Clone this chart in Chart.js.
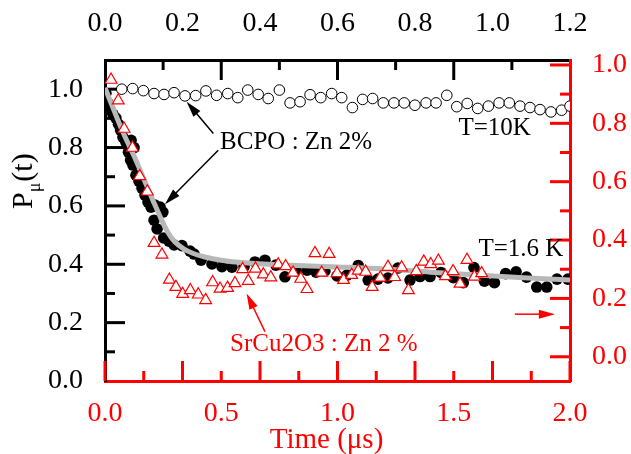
<!DOCTYPE html>
<html>
<head>
<meta charset="utf-8">
<title>P_mu(t) relaxation</title>
<script src="https://cdn.jsdelivr.net/npm/chart.js@4.4.0/dist/chart.umd.min.js"></script>
<style>
  html,body{margin:0;padding:0;background:#fff}
  canvas{display:block}
</style>
</head>
<body>
<canvas id="c" width="631" height="454"></canvas>
<script>
'use strict';

/* ---------- data ---------- */
// BCPO : Zn 2%, T=10K (open circles, left axis)
const T10_T = [0.072,0.119,0.165,0.211,0.254,0.297,0.344,0.390,0.434,0.480,0.528,0.571,0.614,0.659,0.702,
  0.750,0.796,0.839,0.882,0.928,0.975,1.018,1.064,1.108,1.151,1.197,1.243,1.287,1.333,1.381,
  1.424,1.470,1.513,1.558,1.603,1.649,1.695,1.739,1.785,1.828,1.871,1.918,1.964,2.000];
const T10_P = [1.000,1.002,0.995,0.985,0.982,0.988,0.977,0.978,0.994,0.979,0.985,0.971,0.997,0.982,0.968,
  0.997,0.953,0.957,0.981,0.971,0.985,0.971,0.937,0.965,0.968,0.953,0.953,0.953,0.945,0.953,
  0.953,0.979,0.940,0.951,0.934,0.942,0.953,0.953,0.942,0.937,0.930,0.922,0.928,0.942];

// BCPO : Zn 2%, T=1.6 K (filled circles, left axis)
const T16_T = [0.004,0.013,0.022,0.034,0.047,0.058,0.067,0.077,0.090,0.101,0.110,0.112,0.120,0.125,0.133,
  0.146,0.159,0.172,0.185,0.198,0.211,0.215,0.224,0.237,0.249,0.252,0.275,0.297,0.331,0.366,
  0.383,0.413,0.460,0.503,0.546,0.598,0.645,0.688,0.735,0.774,0.822,0.869,0.908,0.946,0.998,
  1.041,1.089,1.132,1.174,1.217,1.260,1.312,1.355,1.398,1.445,1.498,1.541,1.587,1.632,1.675,
  1.723,1.768,1.813,1.857,1.900,1.944,1.991];
const T16_P = [0.986,0.952,0.928,0.914,0.901,0.880,0.860,0.836,0.818,0.784,0.757,0.825,0.740,0.800,0.705,
  0.685,0.661,0.637,0.613,0.596,0.551,0.603,0.521,0.596,0.579,0.490,0.479,0.466,0.464,0.445,
  0.435,0.414,0.401,0.392,0.390,0.392,0.408,0.414,0.397,0.357,0.377,0.380,0.373,0.377,0.360,
  0.363,0.396,0.346,0.349,0.353,0.387,0.346,0.358,0.358,0.372,0.354,0.337,0.389,0.342,0.337,
  0.368,0.374,0.356,0.322,0.322,0.349,0.349];

// fit curve through the 1.6 K data (grey line)
const FIT_T = [0,0.03,0.06,0.09,0.12,0.15,0.18,0.21,0.24,0.27,0.30,0.34,0.38,0.43,0.50,0.60,0.80,1.00,1.20,1.40,1.60,1.80,2.00];
const FIT_P = [1.005,0.945,0.885,0.830,0.780,0.725,0.668,0.612,0.558,0.510,0.477,0.452,0.437,0.425,0.414,0.405,0.397,0.391,0.384,0.373,0.363,0.354,0.346];

// SrCu2O3 : Zn 2 % (open triangles, right axis)
const SR_T = [0.026,0.057,0.082,0.118,0.149,0.182,0.211,0.245,0.277,0.305,0.334,0.367,0.401,0.433,0.463,
  0.495,0.527,0.559,0.592,0.616,0.647,0.681,0.713,0.745,0.777,0.809,0.842,0.869,0.903,0.932,
  0.964,0.998,1.026,1.061,1.089,1.121,1.149,1.184,1.217,1.246,1.276,1.305,1.339,1.371,1.401,
  1.434,1.464,1.497,1.527,1.557,1.589,1.620];
const SR_A = [0.949,0.878,0.781,0.716,0.619,0.566,0.390,0.350,0.264,0.239,0.215,0.228,0.213,0.194,0.255,
  0.233,0.236,0.252,0.300,0.260,0.302,0.282,0.272,0.316,0.310,0.288,0.267,0.232,0.355,0.288,
  0.352,0.286,0.263,0.280,0.295,0.291,0.239,0.271,0.308,0.273,0.306,0.228,0.293,0.326,0.317,
  0.329,0.276,0.293,0.250,0.332,0.274,0.286];

/* ---------- axes ---------- */
const X_TICKS  = [0,0.5,1.0,1.5,2.0];                 // bottom labels (time, us)
const X2_TICKS = [0,0.2,0.4,0.6,0.8,1.0,1.2];         // top labels
const Y_TICKS  = [0,0.2,0.4,0.6,0.8,1.0];             // left labels
const Y2_TICKS = [0,0.2,0.4,0.6,0.8,1.0];             // right labels

// inward tick marks (bottom marks in top-axis units, top marks in time units)
const BOTTOM_MARKS = [0,0.1,0.2,0.3,0.4,0.5,0.6,0.7,0.8,0.9,1.0,1.1,1.2];
const TOP_MARKS    = [0.25,0.5,0.75,1.0,1.25,1.5,1.75];
const LEFT_MARKS   = [0.1,0.2,0.3,0.4,0.5,0.6,0.7,0.8,0.9,1.0];
const RIGHT_MARKS  = [0,0.1,0.2,0.3,0.4,0.5,0.6,0.7,0.8,0.9,1.0];

const RED = '#ff0000', BLK = '#000000';
const SERIF = '"Liberation Serif","Times New Roman",serif';
const TICK_FONT = {family:SERIF, size:28};

const pts = (xs, ys) => xs.map((x,i)=>({x, y:ys[i]}));
const fix = v => Number(v).toFixed(1);
const setTicks = arr => s => { s.ticks = arr.map(v=>({value:v})); };

/* ---------- overlay: tick marks, titles, annotations ---------- */
function seg(ctx, x1, y1, x2, y2, color){
  ctx.strokeStyle = color;
  ctx.beginPath(); ctx.moveTo(x1,y1); ctx.lineTo(x2,y2); ctx.stroke();
}
function arrow(ctx, x1, y1, x2, y2, color){
  const a = Math.atan2(y2-y1, x2-x1), L = 16, W = 4.5;
  const c = Math.cos(a), s = Math.sin(a);
  ctx.strokeStyle = color; ctx.fillStyle = color; ctx.lineWidth = 1.5;
  ctx.beginPath(); ctx.moveTo(x1,y1); ctx.lineTo(x2-L*0.8*c, y2-L*0.8*s); ctx.stroke();
  ctx.beginPath(); ctx.moveTo(x2,y2);
  ctx.lineTo(x2-L*c+W*s, y2-L*s-W*c);
  ctx.lineTo(x2-L*c-W*s, y2-L*s+W*c);
  ctx.closePath(); ctx.fill();
}
const isMajor = (v, step) => Math.abs(v/step - Math.round(v/step)) < 1e-6;

const marksPlugin = {
  id:'marks',
  beforeDatasetsDraw(chart){
    const {ctx, chartArea:a, scales:{x, x2, y, y2}} = chart;
    ctx.save();
    ctx.lineWidth = 3; ctx.lineCap = 'butt';
    TOP_MARKS.forEach(v=>{
      const px = x.getPixelForValue(v);
      seg(ctx, px, a.top, px, a.top + (isMajor(v,0.5)?20:10), BLK);
    });
    LEFT_MARKS.forEach(v=>{
      const py = y.getPixelForValue(v);
      seg(ctx, a.left, py, a.left + (isMajor(v,0.2)?20:10), py, BLK);
    });
    RIGHT_MARKS.forEach(v=>{
      const py = y2.getPixelForValue(v);
      seg(ctx, a.right, py, a.right - (isMajor(v,0.2)?20:10), py, RED);
    });
    BOTTOM_MARKS.forEach(v=>{
      const px = x2.getPixelForValue(v);
      seg(ctx, px, a.bottom, px, a.bottom - (isMajor(v,0.2)?20:10), RED);
    });
    ctx.restore();
  },
  afterDatasetsDraw(chart){
    const {ctx, chartArea:a, scales:{x, y}} = chart;
    const X = v => x.getPixelForValue(v), Y = v => y.getPixelForValue(v);
    ctx.save();
    ctx.textBaseline = 'alphabetic'; ctx.textAlign = 'left';

    // annotations
    ctx.font = '25px ' + SERIF;
    ctx.fillStyle = BLK;
    ctx.fillText('BCPO : Zn 2%', X(0.495), Y(0.795));
    ctx.fillText('T=10K', X(1.52), Y(0.842));
    ctx.fillText('T=1.6 K', X(1.606), Y(0.428));
    arrow(ctx, X(0.466), Y(0.848), X(0.351), Y(0.957), BLK);
    arrow(ctx, X(0.487), Y(0.791), X(0.258), Y(0.606), BLK);

    ctx.fillStyle = RED;
    ctx.fillText('SrCu2O3 : Zn 2 %', X(0.538), Y(0.103));
    arrow(ctx, X(0.688), Y(0.169), X(0.609), Y(0.300), RED);
    arrow(ctx, X(1.763), Y(0.229), X(1.935), Y(0.229), RED);

    // x title
    ctx.font = '29px ' + SERIF;
    ctx.fillStyle = RED; ctx.textAlign = 'center';
    ctx.fillText('Time (\u03bcs)', (a.left + a.right)/2 - 11, a.bottom + 67);

    // y title: P with subscript mu, rotated
    ctx.fillStyle = BLK; ctx.textAlign = 'left';
    ctx.translate(32, 209);
    ctx.rotate(-Math.PI/2);
    ctx.font = '30px ' + SERIF;
    ctx.fillText('P', 0, 0);
    let w = ctx.measureText('P').width;
    ctx.font = '18px ' + SERIF;
    ctx.fillText('\u03bc', w, 8);
    w += ctx.measureText('\u03bc').width + 1;
    ctx.font = '30px ' + SERIF;
    ctx.fillText('(t)', w, 0);
    ctx.restore();
  }
};

/* ---------- chart ---------- */
new Chart(document.getElementById('c'), {
  type:'scatter',
  data:{datasets:[
    {label:'SrCu2O3 : Zn 2 %', data:pts(SR_T, SR_A), yAxisID:'y2',
      pointStyle:'triangle', pointRadius:6.8, pointBorderWidth:1.2,
      pointBorderColor:RED, pointBackgroundColor:'#ffffff'},
    {label:'fit', type:'line', data:pts(FIT_T, FIT_P), yAxisID:'y',
      borderColor:'#b8b8b8', borderWidth:5, pointRadius:0, fill:false,
      cubicInterpolationMode:'monotone'},
    {label:'T=1.6 K', data:pts(T16_T, T16_P), yAxisID:'y',
      pointStyle:'circle', pointRadius:5.8, pointBorderWidth:0,
      pointBackgroundColor:BLK},
    {label:'T=10K', data:pts(T10_T, T10_P), yAxisID:'y',
      pointStyle:'circle', pointRadius:5.3, pointBorderWidth:1,
      pointBorderColor:BLK, pointBackgroundColor:'#ffffff'}
  ]},
  options:{
    responsive:false, animation:false, devicePixelRatio:1,
    layout:{padding:0},
    plugins:{legend:{display:false}, tooltip:{enabled:false}},
    scales:{
      x:{type:'linear', position:'bottom', min:0, max:2,
        afterBuildTicks:setTicks(X_TICKS), afterFit:s=>{s.height = 73;},
        ticks:{color:RED, font:TICK_FONT, padding:16, callback:fix, autoSkip:false, maxRotation:0},
        grid:{display:false, drawTicks:false}, border:{color:RED, width:3}},
      x2:{type:'linear', position:'top', min:0, max:1.2,
        afterBuildTicks:setTicks(X2_TICKS), afterFit:s=>{s.height = 60;},
        ticks:{color:BLK, font:TICK_FONT, padding:20, callback:fix, autoSkip:false, maxRotation:0},
        grid:{display:false, drawTicks:false}, border:{color:BLK, width:3}},
      y:{type:'linear', position:'left', min:0, max:1.1,
        afterBuildTicks:setTicks(Y_TICKS), afterFit:s=>{s.width = 105;},
        ticks:{color:BLK, font:TICK_FONT, padding:22, callback:fix, autoSkip:false},
        grid:{display:false, drawTicks:false}, border:{color:BLK, width:3}},
      y2:{type:'linear', position:'right', min:-0.083, max:1.017,
        afterBuildTicks:setTicks(Y2_TICKS), afterFit:s=>{s.width = 61;},
        ticks:{color:RED, font:TICK_FONT, padding:22, callback:fix, autoSkip:false},
        grid:{display:false, drawTicks:false}, border:{color:RED, width:3}}
    }
  },
  plugins:[marksPlugin]
});
</script>
</body>
</html>
